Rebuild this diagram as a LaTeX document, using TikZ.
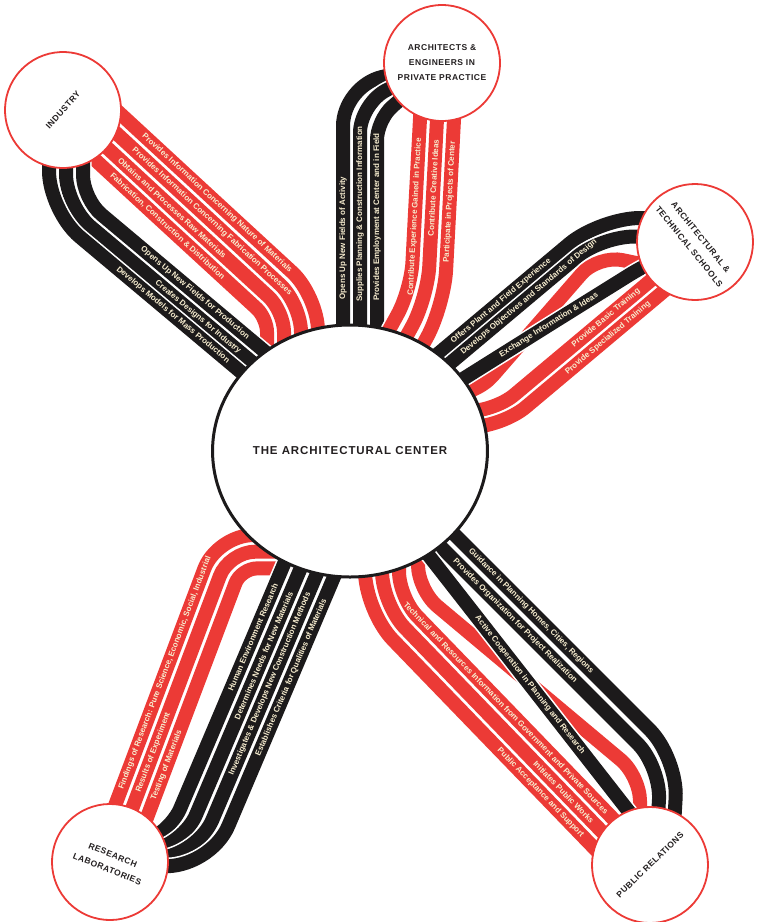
\documentclass[tikz,border=0pt]{standalone}
\usepackage{fontspec}
\setmainfont{Liberation Sans}
\usetikzlibrary{shapes.geometric, backgrounds}
\definecolor{cred}{HTML}{EC3A36}
\definecolor{cblack}{HTML}{1C1A1B}
\definecolor{ccream}{HTML}{F7EDCF}
\definecolor{cink}{HTML}{231F20}
\tikzset{
  band/.style={draw=white, line width=1.6pt, double=#1, double distance=14pt},
  band/.default=cblack,
  lbl/.style={font=\bfseries\fontsize{8}{8}\selectfont, text=ccream, inner sep=0pt},
  hub/.style={circle, draw=cred, line width=1.8pt, fill=white, minimum size=116pt, inner sep=0pt,
    align=center, text=cink, font=\bfseries\fontsize{8.5}{15}\selectfont\addfontfeature{LetterSpace=6}},
  centre/.style={ellipse, draw=cblack, line width=3pt, fill=white, minimum width=264pt, minimum height=252pt,
    inner sep=0pt, text=cink, font=\bfseries\fontsize{11.5}{13}\selectfont\addfontfeature{LetterSpace=8}},
}

\begin{document}
\begin{tikzpicture}[x=1pt, y=-1pt]
  \useasboundingbox (0,0) rectangle (761,922);
  % hubs
  \node[centre] (ctr) at (350,451) {THE ARCHITECTURAL CENTER};
  \node[hub, rotate=48] (ind) at (63,110) {INDUSTRY};
  \node[hub] (arch) at (442,63) {ARCHITECTS \&\\ENGINEERS IN\\PRIVATE PRACTICE};
  \node[hub, rotate=-51] (sch) at (695,242) {ARCHITECTURAL \&\\TECHNICAL SCHOOLS};
  \node[hub, rotate=-22] (res) at (110,862) {RESEARCH\\LABORATORIES};
  \node[hub, rotate=44] (pr) at (650,865) {PUBLIC RELATIONS};

  \begin{scope}[on background layer]
  % industry
  \draw[band=cred, rounded corners=35pt] (106.8,101.3) -- (217,203) node[lbl, rotate=-42.7] {Provides Information Concerning Nature of Materials} -- (318,296) -- (318,380);
  \draw[band=cred, rounded corners=28pt] (95.3,113.8) -- (212.1,221.6) node[lbl, rotate=-42.7] {Provides Information Concerning Fabrication Processes} -- (301,304) -- (301,385);
  \draw[band=cred, rounded corners=21pt] (83.8,126.3) -- (172.2,208) node[lbl, rotate=-42.7] {Obtains and Processes Raw Materials} -- (284,311) -- (284,390);
  \draw[band=cred, rounded corners=14pt] (72.3,138.8) -- (167.4,226.5) node[lbl, rotate=-42.7] {Fabrication, Construction \& Distribution} -- (267,318) -- (267,395);
  \draw[band, rounded corners=24pt] (83,130) -- (83,199) -- (195,293) node[lbl, rotate=-40] {Opens Up New Fields for Production} -- (294.6,376.6);
  \draw[band, rounded corners=32pt] (66,130) -- (66,206) -- (198,317) node[lbl, rotate=-40] {Creates Designs for Industry} -- (290,394);
  \draw[band, rounded corners=40pt] (49,130) -- (49,211) -- (173,315) node[lbl, rotate=-40] {Develops Models for Mass Production} -- (272.6,398.6);

  % architects and engineers
  \draw[band, rounded corners=40pt] (343,385) -- (343,238) node[lbl, rotate=90] {Opens Up New Fields of Activity} -- (343,86) -- (arch.center);
  \draw[band, rounded corners=30pt] (360,385) -- (360,214) node[lbl, rotate=90] {Supplies Planning \& Construction Information} -- (360,103) -- (arch.center);
  \draw[band, rounded corners=20pt] (377,385) -- (377,217) node[lbl, rotate=90] {Provides Employment at Center and in Field} -- (377,120) -- (arch.center);
  \draw[band=cred, rounded corners=28pt] (421,100) -- (414.8,217) node[lbl, rotate=87] {Contribute Experience Gained in Practice} -- (411,290) -- (361,381);
  \draw[band=cred, rounded corners=32pt] (438,100) -- (433.4,188) node[lbl, rotate=87] {Contribute Creative Ideas} -- (427.6,298) -- (377.6,389);
  \draw[band=cred, rounded corners=36pt] (455,100) -- (449.7,202) node[lbl, rotate=87] {Participate in Projects of Center} -- (444.2,306) -- (394.2,397);

  % schools
  \draw[band, rounded corners=40pt] (416.7,371.7) -- (501,301) node[lbl, rotate=40] {Offers Plant and Field Experience} -- (600,218) -- (662,218);
  \draw[band, rounded corners=34pt] (421.8,387) -- (529,297) node[lbl, rotate=40] {Develops Objectives and Standards of Design} -- (603,235) -- (668,238);
  \draw[band=cred, rounded corners=25pt] (430,395) -- (476,395) -- (598,255) -- (660,268);
  \draw[band, rounded corners=15pt] (439,394) -- (549,325) node[lbl, rotate=32] {Exchange Information \& Ideas} -- (642,267) -- (sch.center);
  \draw[band=cred, rounded corners=25pt] (440,411) -- (495,411) -- (606,318) node[lbl, rotate=40] {Provide Basic Training} -- (682.6,253.7);
  \draw[band=cred, rounded corners=31pt] (440,427) -- (502,427) -- (608,338) node[lbl, rotate=40] {Provide Specialized Training} -- (684.6,273.7);

  % research
  \draw[band=cred, rounded corners=36pt] (96.2,855.5) -- (165,673) node[lbl, rotate=69.3] {Findings of Research: Pure Science, Economic, Social, Industrial} -- (217,535.1) -- (290,535.1);
  \draw[band=cred, rounded corners=26pt] (112.2,861.5) -- (153.3,752.5) node[lbl, rotate=69.3] {Results of Experiment} -- (229,551.7) -- (300,551.7);
  \draw[band=cred, rounded corners=16pt] (128.2,867.5) -- (166.7,765.3) node[lbl, rotate=69.3] {Testing of Materials} -- (241,568.4) -- (318,568.4);
  \draw[band, rounded corners=18pt] (292.1,544.9) -- (253,637) node[lbl, rotate=67] {Human Environment Research} -- (173,825.4) -- (res.center);
  \draw[band, rounded corners=28pt] (307.8,551.5) -- (263.7,655.5) node[lbl, rotate=67] {Determines Needs for New Materials} -- (185,840.7) -- (res.center);
  \draw[band, rounded corners=38pt] (323.5,558.1) -- (270,684) node[lbl, rotate=67] {Investigates \& Develops New Construction Methods} -- (197.6,854.7) -- (res.center);
  \draw[band, rounded corners=48pt] (339.1,564.9) -- (291.3,677.5) node[lbl, rotate=67] {Establishes Criteria for Qualities of Materials} -- (209.7,869.8) -- (res.center);

  % public relations
  \draw[band=cred, rounded corners=40pt] (365,540) -- (365,611) -- (540.5,792.6) node[lbl, rotate=-46] {Public Acceptance and Support} -- (604.7,859);
  \draw[band=cred, rounded corners=33pt] (382,540) -- (382,604.2) -- (563.7,792.2) node[lbl, rotate=-46] {Initiates Public Works} -- (610,840);
  \draw[band=cred, rounded corners=26pt] (399,540) -- (399,597.4) -- (506,708) node[lbl, rotate=-46] {Technical and Resources Information from Government and Private Sources} -- (622,828);
  \draw[band=cred, rounded corners=25pt] (418,540) -- (418,590) -- (640,776) -- (640,850);
  \draw[band, rounded corners=40pt] (446,526) -- (531,611) node[lbl, rotate=-45] {Guidance in Planning Homes, Cities, Regions} -- (678,758) -- (672,860);
  \draw[band, rounded corners=33pt] (426,532) -- (515,621) node[lbl, rotate=-45] {Provides Organization for Project Realization} -- (661,767) -- (655,865);
  \draw[band] (406.8,527.4) -- (530,685) node[lbl, rotate=-52] {Active Cooperation in Planning and Research} -- (662,854);
  \end{scope}
\end{tikzpicture}
\end{document}
